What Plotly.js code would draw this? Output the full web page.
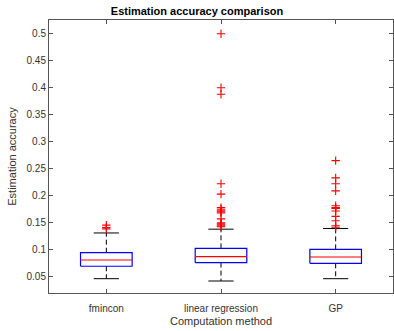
<!DOCTYPE html>
<html>
<head>
<meta charset="utf-8">
<script src="https://cdn.plot.ly/plotly-3.0.1.min.js"></script>
<style>html,body{margin:0;padding:0;background:#fff;}#chart{width:394px;height:331px;}</style>
</head>
<body>
<div id="chart"></div>
<script>
const categories = ["fmincon", "linear regression", "GP"];
const q1 = [0.0693, 0.0760, 0.0748];
const median = [0.0809, 0.0870, 0.0865];
const q3 = [0.0944, 0.1026, 0.1007];
const lowerWhisker = [0.0463, 0.0420, 0.0463];
const upperWhisker = [0.1310, 0.1380, 0.1393];
const outliers = [
  [0.1455, 0.1410, 0.1385],
  [0.500, 0.400, 0.388, 0.222, 0.203, 0.178, 0.175, 0.172, 0.170, 0.168, 0.157, 0.150, 0.148, 0.146, 0.144, 0.1425],
  [0.265, 0.233, 0.222, 0.209, 0.1815, 0.178, 0.1766, 0.1717, 0.1618, 0.1537, 0.1444, 0.1415]
];
const yTicks = [0.05, 0.1, 0.15, 0.2, 0.25, 0.3, 0.35, 0.4, 0.45, 0.5];

const boxHalf = 0.225, capHalf = 0.11;
const traces = [];
categories.forEach((c, i) => {
  const x = i + 1;
  traces.push({type:'scatter', mode:'lines', x:[x, x, null, x, x], y:[q3[i], upperWhisker[i], null, q1[i], lowerWhisker[i]],
    line:{color:'#000', width:1, dash:'5px,3px'}, hoverinfo:'skip', showlegend:false});
  traces.push({type:'scatter', mode:'lines', x:[x-capHalf, x+capHalf, null, x-capHalf, x+capHalf], y:[upperWhisker[i], upperWhisker[i], null, lowerWhisker[i], lowerWhisker[i]],
    line:{color:'#000', width:1}, hoverinfo:'skip', showlegend:false});
  traces.push({type:'scatter', mode:'lines', x:[x-boxHalf, x+boxHalf, x+boxHalf, x-boxHalf, x-boxHalf], y:[q1[i], q1[i], q3[i], q3[i], q1[i]],
    line:{color:'#0000ff', width:1.2}, hoverinfo:'skip', showlegend:false});
  traces.push({type:'scatter', mode:'lines', x:[x-boxHalf, x+boxHalf], y:[median[i], median[i]],
    line:{color:'#ff0000', width:1.2}, hoverinfo:'skip', showlegend:false});
  traces.push({type:'scatter', mode:'markers', x:outliers[i].map(() => x), y:outliers[i],
    marker:{symbol:'cross-thin-open', size:6, color:'#ff0000', line:{color:'#ff0000', width:1.1}}, showlegend:false});
});

const axisCommon = {showline:true, mirror:'ticks', linecolor:'#555', linewidth:1, ticks:'inside', ticklen:4, tickcolor:'#555',
  showgrid:false, zeroline:false, tickfont:{family:'Liberation Sans, Arial, sans-serif', size:10, color:'#333'}};

const layout = {
  width:394, height:331,
  margin:{l:49, r:1, t:20, b:38},
  paper_bgcolor:'#fff', plot_bgcolor:'#fff',
  title:{text:'<b>Estimation accuracy comparison</b>', font:{family:'Liberation Sans, Arial, sans-serif', size:11, color:'#000'}, x:0.5, xanchor:'center', y:0.967, yanchor:'middle'},
  xaxis:Object.assign({}, axisCommon, {range:[0.5, 3.5], tickvals:[1,2,3], ticktext:categories, ticklabelstandoff:6,
    title:{text:'Computation method', font:{family:'Liberation Sans, Arial, sans-serif', size:11, color:'#333'}, standoff:4}}),
  yaxis:Object.assign({}, axisCommon, {range:[0.0198, 0.5254], tickvals:yTicks, ticktext:yTicks.map(v => String(v)),
    title:{text:'Estimation accuracy', font:{family:'Liberation Sans, Arial, sans-serif', size:11, color:'#333'}, standoff:7}}),
  showlegend:false
};

Plotly.newPlot('chart', traces, layout, {displayModeBar:false, staticPlot:true});
</script>
</body>
</html>
